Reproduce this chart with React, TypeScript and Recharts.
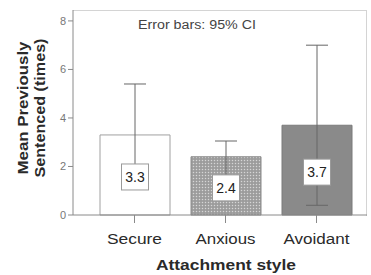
import { Bar, BarChart, Cell, ErrorBar, LabelList, XAxis, YAxis } from "recharts";

const categories = ["Secure", "Anxious", "Avoidant"];
const means = [3.3, 2.4, 3.7];
const ciLow = [1.2, 1.6, 0.4];
const ciHigh = [5.4, 3.05, 7.0];
const yTicks = [0, 2, 4, 6, 8];

const fills = ["#ffffff", "url(#dots)", "#8a8a8a"];
const strokes = ["#a0a0a0", "#8a8a8a", "#7a7a7a"];
const tickWidths: Record<string, number> = { Secure: 55, Anxious: 60, Avoidant: 66 };

const data = categories.map((name, i) => ({
  name,
  mean: means[i],
  ci: [means[i] - ciLow[i], ciHigh[i] - means[i]],
}));

function ValueBox(props: any) {
  const { x, y, width, height, value } = props;
  const cx = x + width / 2;
  const cy = y + height / 2 + 2;
  return (
    <g>
      <rect x={cx - 13.5} y={cy - 13} width={27} height={26} fill="#ffffff" stroke="#9a9a9a" />
      <text x={cx} y={cy + 5} textAnchor="middle" fontSize={14} fill="#222" fontFamily="Liberation Sans, Arial">
        {Number(value).toFixed(1)}
      </text>
    </g>
  );
}

function CategoryTick(props: any) {
  const { x, y, payload } = props;
  const label = String(payload.value);
  return (
    <text
      x={x}
      y={y + 19}
      textAnchor="middle"
      fontSize={14}
      fill="#2a2a2a"
      fontFamily="Liberation Sans, Arial"
      textLength={tickWidths[label]}
      lengthAdjust="spacingAndGlyphs"
    >
      {label}
    </text>
  );
}

export default function App() {
  return (
    <div style={{ position: "absolute", left: 0, top: 0, width: 371, height: 275, background: "#fff" }}>
      <svg width={0} height={0} style={{ position: "absolute" }}>
        <defs>
          <pattern id="dots" width={3} height={3} patternUnits="userSpaceOnUse">
            <rect width={3} height={3} fill="#9c9c9c" />
            <circle cx={1.5} cy={1.5} r={0.75} fill="#d6d6d6" />
          </pattern>
        </defs>
      </svg>
      <div
        style={{
          position: "absolute",
          left: 73,
          top: 10,
          width: 293,
          height: 205,
          borderTop: "1px solid #d4d4d4",
          borderRight: "1px solid #d4d4d4",
        }}
      />
      <div style={{ position: "absolute", left: 0, top: 0 }}>
        <BarChart width={371} height={275} data={data} margin={{ top: 10, right: 4, left: 0, bottom: 0 }}>
          <XAxis
            dataKey="name"
            height={60}
            padding={{ left: 16, right: 5 }}
            stroke="#8a8a8a"
            tickSize={8}
            tick={<CategoryTick />}
          />
          <YAxis
            width={73}
            domain={[0, 8.45]}
            ticks={yTicks}
            stroke="#8a8a8a"
            tickSize={5}
            tick={{ fontSize: 11, fill: "#777", fontFamily: "Liberation Sans, Arial" }}
          />
          <Bar dataKey="mean" barSize={70} isAnimationActive={false}>
            {data.map((d, i) => (
              <Cell key={d.name} fill={fills[i]} stroke={strokes[i]} />
            ))}
            <ErrorBar dataKey="ci" width={11} stroke="#666" strokeWidth={1} />
            <LabelList dataKey="mean" content={<ValueBox />} />
          </Bar>
          <text
            x={197}
            y={29}
            textAnchor="middle"
            fontSize={12}
            fill="#444"
            fontFamily="Liberation Sans, Arial"
            textLength={118}
            lengthAdjust="spacingAndGlyphs"
          >
            Error bars: 95% CI
          </text>
          <text
            x={226}
            y={270}
            textAnchor="middle"
            fontSize={15}
            fontWeight="bold"
            fill="#2a2a2a"
            fontFamily="Liberation Sans, Arial"
            textLength={140}
            lengthAdjust="spacingAndGlyphs"
          >
            Attachment style
          </text>
          <text
            transform="translate(28,108) rotate(-90)"
            textAnchor="middle"
            fontSize={14}
            fontWeight="bold"
            fill="#2a2a2a"
            fontFamily="Liberation Sans, Arial"
            textLength={133}
            lengthAdjust="spacingAndGlyphs"
          >
            Mean Previously
          </text>
          <text
            transform="translate(45,108) rotate(-90)"
            textAnchor="middle"
            fontSize={14}
            fontWeight="bold"
            fill="#2a2a2a"
            fontFamily="Liberation Sans, Arial"
            textLength={139}
            lengthAdjust="spacingAndGlyphs"
          >
            Sentenced (times)
          </text>
        </BarChart>
      </div>
    </div>
  );
}
